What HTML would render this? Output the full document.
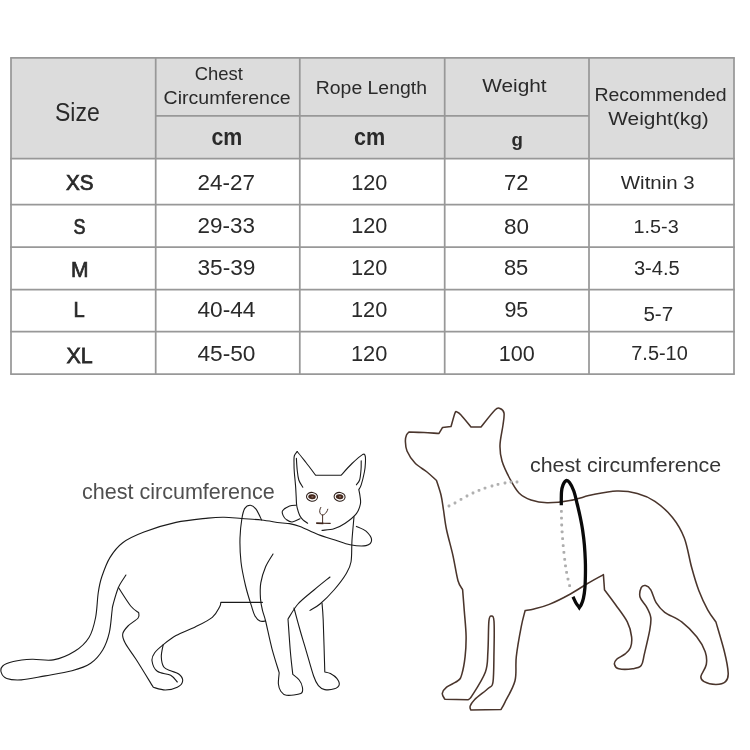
<!DOCTYPE html>
<html><head><meta charset="utf-8"><title>Size chart</title>
<style>
html,body{margin:0;padding:0;background:#fff;}
body{width:750px;height:750px;overflow:hidden;font-family:"Liberation Sans",sans-serif;}
svg{display:block;font-family:"Liberation Sans",sans-serif;will-change:transform;}
.cat{fill:none;stroke:#1a1a1a;stroke-width:1.1;stroke-linecap:round;stroke-linejoin:round;}
.dog{fill:none;stroke:#4a352c;stroke-width:1.55;stroke-linecap:round;stroke-linejoin:round;}
</style></head><body>
<svg width="750" height="750" viewBox="0 0 750 750">
<rect width="750" height="750" fill="#fff"/>
<rect x="11.0" y="57.9" width="723.0" height="100.69999999999999" fill="#dcdcdc"/>
<g stroke="#989898" stroke-width="1.75" fill="none">
<line x1="10.125" y1="57.9" x2="734.875" y2="57.9"/>
<line x1="10.125" y1="158.6" x2="734.875" y2="158.6"/>
<line x1="10.125" y1="204.7" x2="734.875" y2="204.7"/>
<line x1="10.125" y1="247.1" x2="734.875" y2="247.1"/>
<line x1="10.125" y1="289.5" x2="734.875" y2="289.5"/>
<line x1="10.125" y1="331.6" x2="734.875" y2="331.6"/>
<line x1="10.125" y1="374.0" x2="734.875" y2="374.0"/>
<line x1="155.7" y1="115.8" x2="589.0" y2="115.8"/>
<line x1="11.0" y1="57.9" x2="11.0" y2="374.0"/>
<line x1="155.7" y1="57.9" x2="155.7" y2="374.0"/>
<line x1="299.8" y1="57.9" x2="299.8" y2="374.0"/>
<line x1="444.7" y1="57.9" x2="444.7" y2="374.0"/>
<line x1="589.0" y1="57.9" x2="589.0" y2="374.0"/>
<line x1="734.0" y1="57.9" x2="734.0" y2="374.0"/>
</g>
<g>
<text transform="translate(55.00,121.40) scale(0.8930,1)" font-size="25.79" font-weight="normal" fill="#2a2a2a">Size</text>
<text transform="translate(194.80,80.40) scale(0.9835,1)" font-size="18.76" font-weight="normal" fill="#2a2a2a">Chest</text>
<text transform="translate(163.60,104.00) scale(1.0412,1)" font-size="18.76" font-weight="normal" fill="#2a2a2a">Circumference</text>
<text transform="translate(211.50,145.00) scale(0.8881,1)" font-size="24.00" font-weight="bold" fill="#2a2a2a">cm</text>
<text transform="translate(315.80,94.00) scale(1.0350,1)" font-size="18.76" font-weight="normal" fill="#2a2a2a">Rope Length</text>
<text transform="translate(354.00,145.00) scale(0.8997,1)" font-size="24.00" font-weight="bold" fill="#2a2a2a">cm</text>
<text transform="translate(482.20,92.00) scale(1.1092,1)" font-size="18.76" font-weight="normal" fill="#2a2a2a">Weight</text>
<text transform="translate(594.40,100.90) scale(1.0483,1)" font-size="18.62" font-weight="normal" fill="#2a2a2a">Recommended</text>
<text transform="translate(608.20,124.80) scale(1.0903,1)" font-size="19.17" font-weight="normal" fill="#2a2a2a">Weight(kg)</text>
<text transform="translate(66.00,189.80) scale(0.9244,1)" font-size="22.37" font-weight="normal" fill="#2a2a2a" stroke="#2a2a2a" stroke-width="0.75">XS</text>
<text transform="translate(73.60,233.80) scale(0.7936,1)" font-size="22.65" font-weight="normal" fill="#2a2a2a" stroke="#2a2a2a" stroke-width="0.75">S</text>
<text transform="translate(70.90,276.60) scale(0.9384,1)" font-size="22.40" font-weight="normal" fill="#2a2a2a" stroke="#2a2a2a" stroke-width="0.75">M</text>
<text transform="translate(73.50,316.50) scale(0.8894,1)" font-size="22.69" font-weight="normal" fill="#2a2a2a" stroke="#2a2a2a" stroke-width="0.75">L</text>
<text transform="translate(66.50,362.90) scale(0.9506,1)" font-size="22.55" font-weight="normal" fill="#2a2a2a" stroke="#2a2a2a" stroke-width="0.75">XL</text>
<text transform="translate(197.60,189.80) scale(0.9971,1)" font-size="22.51" font-weight="normal" fill="#2a2a2a">24-27</text>
<text transform="translate(197.60,233.00) scale(1.0035,1)" font-size="22.37" font-weight="normal" fill="#2a2a2a">29-33</text>
<text transform="translate(197.40,275.10) scale(1.0093,1)" font-size="22.51" font-weight="normal" fill="#2a2a2a">35-39</text>
<text transform="translate(197.40,317.40) scale(1.0157,1)" font-size="22.37" font-weight="normal" fill="#2a2a2a">40-44</text>
<text transform="translate(197.40,360.60) scale(1.0157,1)" font-size="22.37" font-weight="normal" fill="#2a2a2a">45-50</text>
<text transform="translate(351.20,190.10) scale(0.9618,1)" font-size="22.51" font-weight="normal" fill="#2a2a2a">120</text>
<text transform="translate(351.20,233.40) scale(0.9680,1)" font-size="22.37" font-weight="normal" fill="#2a2a2a">120</text>
<text transform="translate(350.90,275.40) scale(0.9760,1)" font-size="22.37" font-weight="normal" fill="#2a2a2a">120</text>
<text transform="translate(350.90,316.80) scale(0.9760,1)" font-size="22.37" font-weight="normal" fill="#2a2a2a">120</text>
<text transform="translate(350.90,360.90) scale(0.9760,1)" font-size="22.37" font-weight="normal" fill="#2a2a2a">120</text>
<text transform="translate(504.10,190.30) scale(0.9847,1)" font-size="22.37" font-weight="normal" fill="#2a2a2a">72</text>
<text transform="translate(503.90,233.70) scale(1.0048,1)" font-size="22.37" font-weight="normal" fill="#2a2a2a">80</text>
<text transform="translate(503.90,275.10) scale(0.9744,1)" font-size="22.51" font-weight="normal" fill="#2a2a2a">85</text>
<text transform="translate(504.40,316.80) scale(0.9605,1)" font-size="22.37" font-weight="normal" fill="#2a2a2a">95</text>
<text transform="translate(498.70,360.90) scale(0.9653,1)" font-size="22.37" font-weight="normal" fill="#2a2a2a">100</text>
<text transform="translate(620.80,189.00) scale(1.1321,1)" font-size="18.07" font-weight="normal" fill="#2a2a2a">Witnin 3</text>
<text transform="translate(633.60,233.30) scale(1.0296,1)" font-size="19.21" font-weight="normal" fill="#2a2a2a">1.5-3</text>
<text transform="translate(633.90,275.10) scale(1.0325,1)" font-size="19.50" font-weight="normal" fill="#2a2a2a">3-4.5</text>
<text transform="translate(643.40,320.50) scale(1.0545,1)" font-size="19.49" font-weight="normal" fill="#2a2a2a">5-7</text>
<text transform="translate(631.30,360.00) scale(1.0297,1)" font-size="19.35" font-weight="normal" fill="#2a2a2a">7.5-10</text>
<text transform="translate(511.40,145.92) scale(0.9734,1)" font-size="19.20" font-weight="bold" fill="#2a2a2a">g</text>
</g>
<text transform="translate(82.00,499.00) scale(1.0150,1)" font-size="21.24" fill="#4f4f4f">chest circumference</text>
<text transform="translate(530.00,472.20) scale(1.0131,1)" font-size="21.10" fill="#353535">chest circumference</text>
<g class="cat">
<path d="M125.9,575.1C124.7,577.2 120.5,582.6 118.4,587.5C116.3,592.4 114.2,600.5 113.1,604.5C112.0,608.5 112.6,606.6 112.0,611.3C111.4,616.0 110.8,626.2 109.3,632.7C107.8,639.2 105.8,644.9 102.7,650.0C99.6,655.1 95.8,659.8 90.7,663.3C85.6,666.8 79.6,668.7 72.0,670.8C64.4,672.9 53.8,674.4 45.3,675.9C36.8,677.4 27.7,679.5 21.3,679.9C14.9,680.3 10.0,679.7 6.7,678.5C3.4,677.3 2.0,674.8 1.3,672.7C0.6,670.6 0.7,667.9 2.7,666.0C4.7,664.1 8.4,662.6 13.3,661.5C18.2,660.4 25.3,659.6 32.0,659.3C38.7,659.0 46.2,661.2 53.3,659.9C60.4,658.6 68.8,655.0 74.7,651.3C80.7,647.6 85.5,643.1 89.0,637.5C92.5,631.9 94.1,624.9 95.6,617.5C97.1,610.1 97.2,599.8 98.2,593.0C99.2,586.2 99.8,582.7 101.8,576.8C103.8,570.9 106.4,563.3 109.9,557.6C113.4,551.9 117.0,547.0 122.7,542.7C128.4,538.4 135.1,535.4 144.0,532.0C152.9,528.6 165.3,524.7 176.0,522.4C186.7,520.1 200.0,519.0 208.0,518.1C216.0,517.2 218.4,517.1 224.0,517.2C229.6,517.3 235.3,518.0 241.6,518.5C247.9,519.0 255.2,519.3 261.6,520.0C268.0,520.7 275.3,522.2 280.0,522.8C284.7,523.4 286.3,523.0 289.6,523.6C292.9,524.2 295.3,524.7 300.0,526.5C304.7,528.3 312.2,532.1 318.0,534.4C323.8,536.6 329.7,538.3 335.0,540.0C340.3,541.7 344.8,543.9 350.0,544.8C355.2,545.7 362.4,546.4 366.0,545.6C369.6,544.8 371.6,542.4 371.6,540.0C371.6,537.6 368.5,533.5 366.0,531.2C363.5,528.9 358.0,527.2 356.4,526.4"/>
<path d="M118.4,587.5C120.5,590.6 127.3,601.8 130.7,606.0C134.1,610.2 137.4,611.6 138.7,612.7C138.6,613.6 139.9,615.8 138.1,618.0C136.3,620.2 130.6,623.3 128.0,626.0C125.4,628.7 123.2,631.1 122.7,634.0C122.2,636.9 123.1,639.1 125.3,643.3C127.5,647.5 131.3,652.0 136.0,659.3C140.7,666.6 150.4,682.6 153.3,687.3C155.3,687.8 161.3,690.0 165.3,690.0C169.3,690.0 174.4,688.8 177.3,687.3C180.2,685.8 182.5,682.9 182.7,680.7C182.9,678.5 180.7,675.6 178.7,674.0C176.7,672.4 173.1,671.9 170.7,670.8C168.2,669.7 165.6,669.6 164.0,667.3C162.4,664.9 161.4,660.5 161.3,656.7C161.2,652.9 162.9,646.7 163.2,644.7"/>
<path d="M262.4,602.4L220.8,602.4C220.6,603.1 221.1,604.2 219.7,606.7C218.3,609.2 216.4,613.9 212.3,617.3C208.2,620.7 201.2,623.9 195.2,626.9C189.1,629.9 181.3,632.5 176.0,635.5C170.7,638.5 166.8,641.8 163.2,644.7C159.6,647.6 156.6,650.0 154.7,652.7C152.8,655.4 151.6,657.6 152.0,660.7C152.4,663.8 154.2,668.9 157.3,671.3C160.4,673.7 167.4,673.5 170.7,675.3C174.0,677.1 176.2,680.9 177.3,682.0"/>
<path d="M261.6,520.0C260.7,518.2 257.9,511.7 256.0,509.2C254.1,506.7 252.3,505.3 250.4,505.2C248.5,505.1 246.2,506.2 244.8,508.4C243.4,510.6 242.7,513.6 241.9,518.5C241.1,523.4 240.2,530.8 240.0,538.0C239.8,545.2 240.1,554.0 241.0,562.0C241.9,570.0 243.9,578.8 245.6,586.0C247.3,593.2 249.6,600.2 251.2,605.2C252.8,610.2 253.5,613.4 255.0,616.0C256.5,618.6 258.2,620.2 260.0,621.0C261.8,621.8 264.7,621.0 265.6,621.0"/>
<path d="M273.0,554.0C271.8,556.1 267.6,562.0 265.6,566.8C263.6,571.6 261.7,577.5 260.8,582.8C259.9,588.1 260.2,594.3 260.5,598.8C260.8,603.3 261.5,606.3 262.4,610.0C263.2,613.7 264.0,614.5 265.6,621.0C267.2,627.5 269.7,640.2 272.0,648.8C274.3,657.4 278.0,668.8 279.2,672.8C279.1,674.7 278.1,680.9 278.4,684.0C278.7,687.1 279.5,689.3 280.8,691.2C282.1,693.1 283.1,694.8 286.4,695.2C289.7,695.6 298.1,694.9 300.8,693.6C303.5,692.3 302.7,689.5 302.4,687.2C302.1,684.9 300.8,682.1 299.2,680.0C297.6,677.9 293.9,675.3 292.8,674.4C292.4,670.7 291.2,661.2 290.4,652.0C289.6,642.8 288.4,624.5 288.0,619.0C289.7,616.5 293.7,608.8 298.0,604.0C302.3,599.2 308.7,594.5 314.0,590.0C319.3,585.5 327.3,579.2 330.0,577.0"/>
<path d="M294.0,608.0C295.0,611.7 298.1,623.2 300.0,630.0C301.9,636.8 303.3,641.1 305.6,648.8C307.9,656.5 311.5,669.9 313.6,676.0C315.7,682.1 316.5,683.3 318.4,685.6C320.3,687.9 322.1,689.1 324.8,689.6C327.5,690.1 332.0,689.6 334.4,688.8C336.8,688.0 338.8,686.5 339.2,684.8C339.6,683.1 338.3,680.3 336.8,678.4C335.3,676.5 332.4,674.7 330.4,673.6C328.4,672.5 325.7,672.3 324.8,672.0C324.5,663.3 323.7,631.5 323.2,620.0C322.7,608.5 322.2,605.8 322.0,603.0"/>
<path d="M354.0,516.8C353.7,520.7 352.5,532.5 352.0,540.0C351.5,547.5 352.0,556.3 351.0,562.0C350.0,567.7 348.8,569.3 346.0,574.0C343.2,578.7 338.3,585.0 334.0,590.0C329.7,595.0 324.0,600.6 320.0,604.0C316.0,607.4 311.7,609.3 310.0,610.4"/>
<path d="M297.2,451.5C296.7,452.2 294.8,454.1 294.3,456.0C293.8,457.9 294.0,460.3 294.0,463.0C294.0,465.7 294.0,468.1 294.3,472.0C294.6,475.9 295.3,482.2 295.6,486.4C295.9,490.6 296.0,493.7 296.2,497.0C296.4,500.3 296.2,503.0 296.8,506.0C297.4,509.0 298.6,512.9 299.6,515.2C300.6,517.5 301.7,518.5 303.0,519.8C304.3,521.1 306.8,522.6 307.6,523.2"/>
<path d="M297.2,451.5C298.7,453.3 302.9,458.6 306.0,462.5C309.1,466.4 314.0,473.1 315.6,475.2L341.2,475.2C343.0,473.2 348.4,466.9 352.0,463.5C355.6,460.1 360.3,455.9 362.5,454.6C364.7,453.4 364.7,454.6 365.2,456.0C365.7,457.4 365.5,460.3 365.4,463.0C365.3,465.7 365.1,468.4 364.4,472.0C363.7,475.6 362.1,481.9 361.2,484.8C360.3,487.7 359.2,488.8 358.8,489.6C359.0,490.7 359.7,493.6 360.0,496.0C360.3,498.4 361.0,501.1 360.4,504.0C359.8,506.9 358.9,510.4 356.4,513.6C353.9,516.8 348.9,520.7 345.2,523.2C341.5,525.7 337.9,527.6 334.0,528.8C330.1,530.0 324.0,530.1 322.0,530.4"/>
<path d="M296.4,458.4C296.5,460.3 296.8,466.4 297.2,470.0C297.6,473.6 297.9,477.1 298.8,480.0C299.7,482.9 302.1,486.0 302.8,487.2"/>
<path d="M361.2,460.8C361.2,462.3 361.3,466.8 361.0,470.0C360.7,473.2 360.4,477.5 359.6,480.0C358.8,482.5 356.9,484.0 356.4,484.8"/>
<path d="M296.2,505.2C295.1,505.3 291.9,505.1 289.6,506.0C287.3,506.9 283.7,509.2 282.6,510.8C281.5,512.4 282.6,514.1 283.2,515.6C283.8,517.1 284.9,518.5 286.4,519.6C287.9,520.7 289.7,522.1 292.0,522.0C294.3,521.9 298.7,519.3 300.0,518.8"/>
</g>
<g transform="rotate(7 312.0 496.8)"><ellipse cx="312.0" cy="496.8" rx="5.5" ry="4.4" fill="#fff" stroke="#2b1d18" stroke-width="1.05"/><ellipse cx="312.0" cy="496.8" rx="3.8" ry="2.5" fill="#45291e"/><ellipse cx="312.4" cy="496.8" rx="1.3" ry="0.6" fill="#9a7a6c"/></g>
<g transform="rotate(7 339.6 496.8)"><ellipse cx="339.6" cy="496.8" rx="5.5" ry="4.4" fill="#fff" stroke="#2b1d18" stroke-width="1.05"/><ellipse cx="339.6" cy="496.8" rx="3.8" ry="2.5" fill="#45291e"/><ellipse cx="340.0" cy="496.8" rx="1.3" ry="0.6" fill="#9a7a6c"/></g>
<g fill="none" stroke="#3d241a" stroke-linecap="round"><path stroke-width="0.95" d="M320.8,507.4 C319.6,509.5 319.2,511.8 320.4,513.8 C321,514.6 321.9,515 322.6,515 C324,514.9 325.3,513.8 326.4,512.2 C327.1,511.2 327.6,510.2 327.8,509.2 M322.6,515 L322.6,522.6"/><path stroke-width="1.7" stroke-linecap="butt" d="M316.2,523.2 L323.4,523.3"/><path stroke-width="1.1" d="M323.4,523.3 L330.2,523.4"/></g>
<g class="dog">
<path d="M409.0,432.0C411.5,432.1 419.0,432.4 424.0,432.6C429.0,432.8 436.5,433.3 439.0,433.4L442.6,427.4L451.0,426.6C451.7,424.3 454.0,415.4 455.0,413.0C456.0,410.6 456.0,411.7 457.0,412.0C458.0,412.3 458.7,412.5 461.0,415.0C463.3,417.5 469.3,425.0 471.0,427.0L481.0,427.0C483.3,424.2 491.8,413.1 495.0,410.0C498.2,406.9 498.5,408.1 500.0,408.6C501.5,409.1 503.5,410.3 504.0,413.0C504.5,415.7 503.7,419.7 503.0,425.0C502.3,430.3 500.2,439.0 500.0,445.0C499.8,451.0 500.3,455.3 502.0,461.0C503.7,466.7 507.2,473.7 510.0,479.0C512.8,484.3 515.5,489.5 519.0,493.0C522.5,496.5 526.3,498.4 531.0,500.0C535.7,501.6 540.5,502.6 547.0,502.7C553.5,502.8 562.2,501.9 569.9,500.5C577.6,499.1 585.5,496.2 593.3,494.6C601.1,493.0 609.5,491.2 616.8,491.0C624.1,490.8 630.9,491.7 637.3,493.4C643.6,495.1 649.0,497.3 654.9,501.3C660.8,505.3 667.6,511.4 672.5,517.5C677.4,523.6 681.1,529.7 684.3,538.0C687.5,546.3 689.2,558.5 691.6,567.3C694.0,576.1 696.2,583.7 698.9,590.8C701.6,597.9 704.9,604.7 707.7,609.9C710.5,615.1 714.5,619.9 715.9,621.9C717.3,626.9 722.3,643.2 724.4,651.7C726.5,660.2 728.0,668.1 728.2,673.1C728.4,678.1 727.5,679.7 725.5,681.6C723.5,683.5 719.5,684.4 715.9,684.4C712.3,684.4 706.6,683.0 704.1,681.6C701.6,680.2 700.5,679.1 700.9,676.3C701.3,673.4 705.6,668.6 706.3,664.5C707.0,660.4 706.8,656.3 705.2,651.7C703.6,647.1 700.6,641.8 696.7,636.8C692.8,631.8 687.0,626.0 681.7,621.9C676.4,617.8 669.0,615.5 664.7,612.3C660.4,609.1 658.4,606.4 656.1,602.7C653.8,599.0 652.6,592.8 650.8,589.9C649.0,587.0 647.1,586.0 645.5,585.6C643.9,585.2 642.1,585.8 641.2,587.7C640.3,589.7 639.2,594.1 640.1,597.3C641.0,600.5 644.7,603.5 646.5,606.9C648.3,610.3 650.3,613.7 650.8,617.6C651.3,621.5 650.8,624.4 649.7,630.4C648.6,636.4 645.8,648.0 644.4,653.9C643.0,659.8 643.2,663.1 641.2,665.6C639.2,668.1 636.4,668.3 632.7,668.8C629.0,669.3 621.8,669.5 618.8,668.8C615.8,668.1 614.9,666.1 614.5,664.5C614.1,662.9 614.9,661.0 616.7,659.2C618.5,657.4 622.9,655.9 625.2,653.9C627.5,651.9 629.4,650.4 630.5,647.5C631.6,644.6 632.1,641.1 631.6,636.8C631.1,632.5 630.0,627.2 627.3,621.9C624.6,616.6 619.4,610.1 615.6,604.8C611.8,599.5 606.4,592.4 604.5,589.9L603.4,574.6C600.8,576.1 593.1,580.2 587.5,583.5C581.9,586.8 576.4,590.7 570.0,594.2C563.6,597.7 555.2,601.9 549.2,604.4C543.2,606.9 538.0,608.0 534.0,609.0C530.0,610.0 526.6,610.3 525.1,610.6C524.5,613.2 522.8,618.6 521.3,626.3C519.8,634.0 517.3,647.6 516.3,656.7C515.2,665.8 516.9,673.1 515.0,680.7C513.1,688.3 507.2,697.5 504.9,702.3C502.6,707.1 501.7,708.2 501.1,709.4L470.7,709.9C470.6,709.3 469.6,707.8 470.2,706.1C470.8,704.4 471.5,702.7 474.5,699.7C477.5,696.7 485.3,691.2 488.4,688.3C491.5,685.3 492.1,688.1 493.0,682.0C493.9,675.9 493.8,661.7 494.0,651.6C494.2,641.5 494.4,627.1 494.0,621.2C493.6,615.3 492.2,616.1 491.4,616.1C490.5,616.1 489.5,615.3 488.9,621.2C488.3,627.1 488.5,643.2 487.9,651.6C487.3,660.0 488.1,664.5 485.4,671.9C482.7,679.3 474.8,691.3 471.9,695.9C469.0,700.5 468.7,699.1 468.1,699.7L444.8,699.2C444.4,698.2 442.0,695.4 442.3,693.4C442.6,691.4 444.0,689.2 446.6,687.1C449.2,685.0 455.5,682.8 458.0,680.7C460.5,678.6 460.6,678.4 461.8,674.4C463.0,670.4 464.4,663.0 465.1,656.7C465.8,650.4 466.2,644.0 466.1,636.4C466.0,628.8 464.9,618.9 464.3,611.1C463.7,603.3 462.9,593.1 462.6,589.5C461.8,588.0 459.6,586.4 458.0,580.7C456.4,575.0 454.8,563.8 452.9,555.3C451.0,546.8 448.2,537.5 446.6,530.0C445.0,522.5 444.4,515.8 443.5,510.0C442.6,504.2 442.2,499.9 441.0,495.0C439.8,490.1 437.2,482.9 436.5,480.5C434.9,479.1 430.6,474.9 427.0,472.0C423.4,469.1 418.3,466.5 415.0,463.0C411.7,459.5 408.6,454.7 407.0,451.0C405.4,447.3 405.5,443.7 405.4,441.0C405.3,438.3 405.9,436.5 406.5,435.0C407.1,433.5 408.6,432.5 409.0,432.0Z"/>
</g>
<g fill="#b0b0b0"><rect x="447.60" y="504.60" width="2.8" height="2.8" rx="0.8"/><rect x="453.60" y="501.60" width="2.8" height="2.8" rx="0.8"/><rect x="459.60" y="498.00" width="2.8" height="2.8" rx="0.8"/><rect x="465.60" y="494.60" width="2.8" height="2.8" rx="0.8"/><rect x="471.60" y="491.60" width="2.8" height="2.8" rx="0.8"/><rect x="477.60" y="489.00" width="2.8" height="2.8" rx="0.8"/><rect x="483.60" y="486.80" width="2.8" height="2.8" rx="0.8"/><rect x="490.60" y="484.60" width="2.8" height="2.8" rx="0.8"/><rect x="496.60" y="483.00" width="2.8" height="2.8" rx="0.8"/><rect x="503.60" y="481.60" width="2.8" height="2.8" rx="0.8"/><rect x="509.60" y="480.60" width="2.8" height="2.8" rx="0.8"/><rect x="515.60" y="480.60" width="2.8" height="2.8" rx="0.8"/></g>
<g fill="#adadad"><rect x="560.00" y="510.00" width="2.8" height="2.8" rx="0.8"/><rect x="560.10" y="516.80" width="2.8" height="2.8" rx="0.8"/><rect x="560.30" y="523.60" width="2.8" height="2.8" rx="0.8"/><rect x="560.70" y="530.50" width="2.8" height="2.8" rx="0.8"/><rect x="561.20" y="537.30" width="2.8" height="2.8" rx="0.8"/><rect x="561.80" y="544.20" width="2.8" height="2.8" rx="0.8"/><rect x="562.50" y="551.00" width="2.8" height="2.8" rx="0.8"/><rect x="563.30" y="557.90" width="2.8" height="2.8" rx="0.8"/><rect x="564.10" y="564.40" width="2.8" height="2.8" rx="0.8"/><rect x="565.20" y="571.00" width="2.8" height="2.8" rx="0.8"/><rect x="566.60" y="577.80" width="2.8" height="2.8" rx="0.8"/><rect x="568.20" y="584.20" width="2.8" height="2.8" rx="0.8"/></g>
<path fill="none" stroke="#0a0a0a" stroke-width="3.3" stroke-linecap="butt" stroke-linejoin="miter" d="M561.3,505.3C561.3,503.1 561.2,495.4 561.5,492.0C561.8,488.6 562.2,486.9 563.0,485.0C563.8,483.1 565.1,481.0 566.2,480.6C567.3,480.2 568.2,480.8 569.5,482.5C570.8,484.2 572.5,487.4 573.8,491.0C575.1,494.6 576.2,499.8 577.2,504.0C578.2,508.2 579.1,511.7 580.0,516.0C580.9,520.3 581.9,525.2 582.6,530.0C583.3,534.8 584.0,540.0 584.4,545.0C584.8,550.0 585.1,554.8 585.3,560.0C585.5,565.2 585.5,571.3 585.4,576.0C585.3,580.7 585.2,584.3 584.9,588.0C584.6,591.7 584.0,595.6 583.4,598.4C582.8,601.2 581.9,603.3 581.2,604.8C580.5,606.3 579.6,607.1 579.3,607.6C578.8,606.8 577.0,604.8 576.0,603.0C575.0,601.2 573.5,597.8 573.0,596.8"/>
</svg>
</body></html>
